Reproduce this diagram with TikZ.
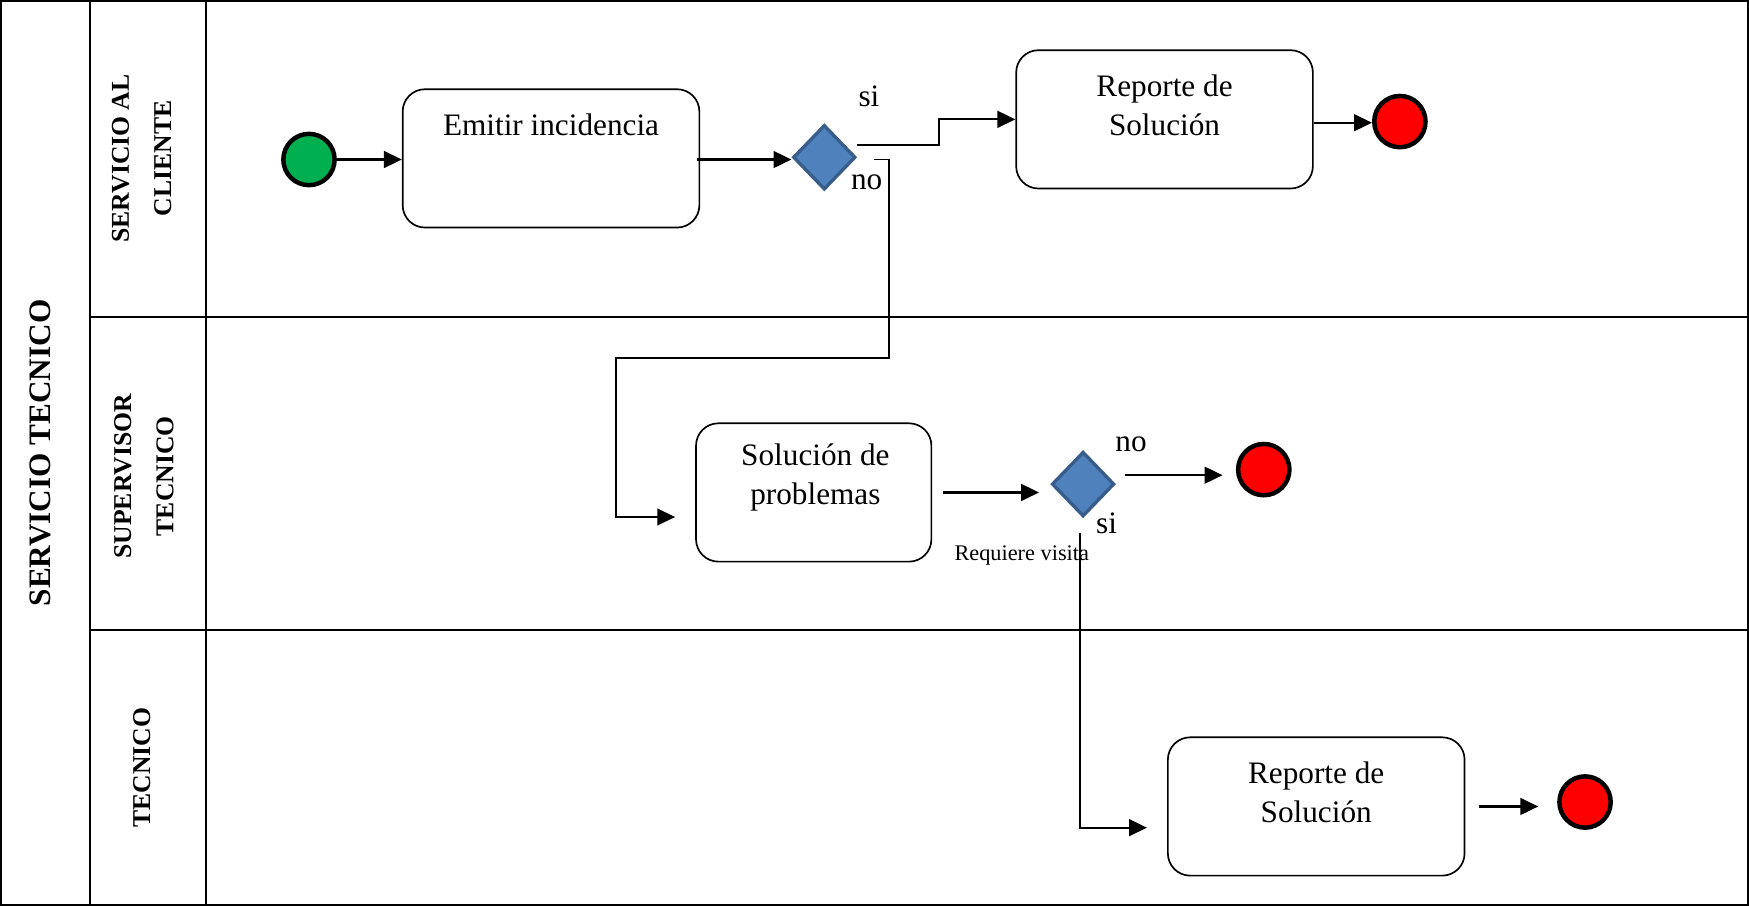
\documentclass[tikz,border=0pt]{standalone}
\usepackage{fontspec}
\setmainfont{Liberation Serif}
\usetikzlibrary{shapes.geometric,arrows.meta,calc}

\definecolor{startgreen}{HTML}{00B050}
\definecolor{endred}{HTML}{FF0000}
\definecolor{gatefill}{HTML}{4F81BD}
\definecolor{gateline}{HTML}{385D8A}

\tikzset{
  lane/.style={line width=1.6pt},
  task/.style={draw, line width=1.5pt, rounded corners=20pt, minimum width=266pt, minimum height=124pt, inner sep=0pt},
  tasktext/.style={align=center, font=\fontsize{28}{35}\selectfont, inner sep=0pt},
  startev/.style={circle, draw, line width=4pt, fill=startgreen, minimum size=46pt, inner sep=0pt},
  endev/.style={circle, draw, line width=4pt, fill=endred, minimum size=46pt, inner sep=0pt},
  gateway/.style={diamond, draw=gateline, line width=3pt, fill=gatefill, minimum width=56pt, minimum height=58pt, inner sep=0pt},
  flow/.style={line width=2pt, -{Triangle[length=16pt,width=15pt]}},
  branch/.style={font=\fontsize{28}{32}\selectfont, inner sep=0pt},
  lanelabel/.style={rotate=90, align=center, font=\fontsize{23}{38}\selectfont\bfseries, inner sep=0pt},
}

\begin{document}
\begin{tikzpicture}[x=1pt, y=-1pt]
\useasboundingbox (0,0) rectangle (1568,812);

% pool and lanes
\draw[lane] (1,1) rectangle (1567,811);
\draw[lane] (81,1) -- (81,811);
\draw[lane] (185,1) -- (185,811);
\draw[lane] (81,284) -- (1567,284);
\draw[lane] (81,565) -- (1567,565);

\node[lanelabel, font=\fontsize{28}{34}\selectfont\bfseries] (pool) at (36,406) {SERVICIO TECNICO};
\node[lanelabel] (lane1) at (127,142) {SERVICIO AL\\CLIENTE};
\node[lanelabel] (lane2) at (129,427) {SUPERVISOR\\TECNICO};
\node[lanelabel] (lane3) at (127,688) {TECNICO};

% servicio al cliente
\node[startev] (s) at (277,143) {};
\node[task] (t1) at (494,142) {};
\node[tasktext] (t1txt) at (494,112) {Emitir incidencia};
\node[gateway] (g1) at (739,141) {};
\node[branch] (g1si) at (779,86) {si};
\node[branch] (g1no) at (777,163) {no};
\node[task] (r1) at (1044,107) {};
\node[tasktext] (r1txt) at (1044,94) {Reporte de\\Solución};
\node[endev] (e1) at (1255,109) {};

% supervisor tecnico
\node[task, minimum width=211pt] (p1) at (729.5,441.5) {};
\node[tasktext] (p1txt) at (731,428) {Solución de\\problemas};
\node[gateway] (g2) at (971,434) {};
\node[branch] (g2no) at (1014,398) {no};
\node[branch] (g2si) at (992,469) {si};
\node[branch, font=\fontsize{20}{24}\selectfont] (visit) at (916,498) {Requiere visita};
\node[endev] (e2) at (1133,421) {};

% tecnico
\node[task] (r2) at (1180,723) {};
\node[tasktext] (r2txt) at (1180,710) {Reporte de\\Solución};
\node[endev] (e3) at (1421,719) {};

\coordinate (n1) at (797,321);
\coordinate (n2) at (552,321);

% sequence flows
\draw[flow] (s.east) -- (s.east -| t1.west);
\draw[flow] ([xshift=-3pt,yshift=-1pt]t1.east) -- ([yshift=-1pt]t1.east -| g1.west);
\draw[flow] ([yshift=11pt]g1.east) -- ++(73,0) |- (r1.west);
\draw[flow] ([yshift=-3pt]r1.east) -- ([yshift=-3pt]r1.east -| e1.west);
\draw[flow, line width=1.7pt, shorten >=18pt] ([xshift=15pt,yshift=-2pt]g1.east) -| (n1) -- (n2) |- ([yshift=-22pt]p1.west);
\draw[flow, shorten <=10pt, shorten >=10pt] (p1.east) -- (p1.east -| g2.west);
\draw[flow, shorten <=8pt, shorten >=12pt] ([yshift=8pt]g2.east) -- ([yshift=8pt]g2.east -| e2.west);
\draw[flow, shorten >=18pt] ([xshift=-3pt,yshift=-13pt]g2.south) |- ([yshift=-19pt]r2.west);
\draw[flow, shorten <=12pt, shorten >=17pt] (r2.east) -- (r2.east -| e3.west);
\end{tikzpicture}
\end{document}
